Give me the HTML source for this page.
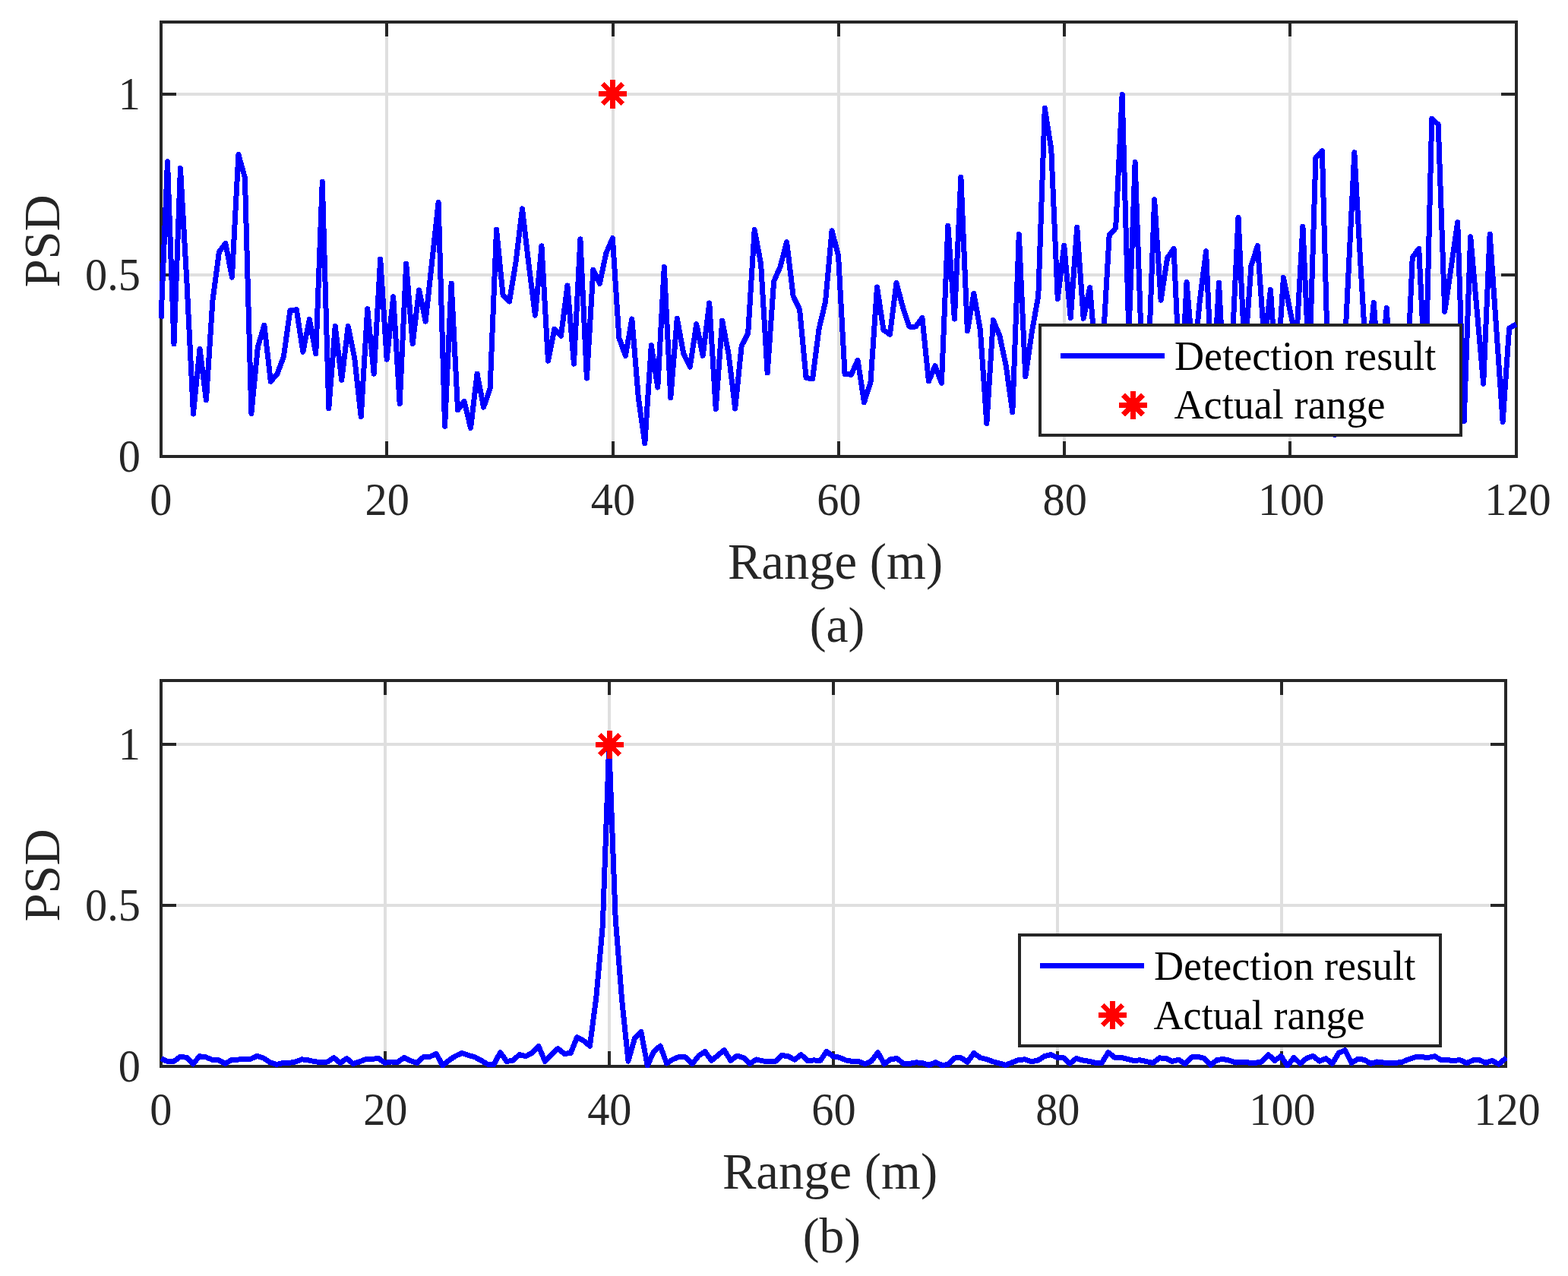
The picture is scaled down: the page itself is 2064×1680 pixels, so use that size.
<!DOCTYPE html>
<html lang="en">
<head>
<meta charset="utf-8">
<title>Range detection PSD</title>
<style>
html,body{margin:0;padding:0;background:#fff;}
body{width:2064px;height:1680px;overflow:hidden;}
svg{display:block;font-family:'Liberation Serif','DejaVu Serif',serif;}
</style>
</head>
<body>
<svg width="2064" height="1680" viewBox="0 0 2064 1680">
<rect width="2064" height="1680" fill="#fff"/>
<g id="plot-a">
<rect x="507" y="29" width="4" height="572" fill="#dfdfdf"/>
<rect x="805" y="29" width="4" height="572" fill="#dfdfdf"/>
<rect x="1102" y="29" width="4" height="572" fill="#dfdfdf"/>
<rect x="1399" y="29" width="4" height="572" fill="#dfdfdf"/>
<rect x="1696" y="29" width="4" height="572" fill="#dfdfdf"/>
<rect x="212" y="360" width="1784" height="4" fill="#dfdfdf"/>
<rect x="212" y="122" width="1784" height="4" fill="#dfdfdf"/>
<rect x="507" y="581" width="4" height="18" fill="#262626"/>
<rect x="507" y="31" width="4" height="17" fill="#262626"/>
<rect x="805" y="581" width="4" height="18" fill="#262626"/>
<rect x="805" y="31" width="4" height="17" fill="#262626"/>
<rect x="1102" y="581" width="4" height="18" fill="#262626"/>
<rect x="1102" y="31" width="4" height="17" fill="#262626"/>
<rect x="1399" y="581" width="4" height="18" fill="#262626"/>
<rect x="1399" y="31" width="4" height="17" fill="#262626"/>
<rect x="1696" y="581" width="4" height="18" fill="#262626"/>
<rect x="1696" y="31" width="4" height="17" fill="#262626"/>
<rect x="214" y="360" width="18" height="4" fill="#262626"/>
<rect x="1976" y="360" width="18" height="4" fill="#262626"/>
<rect x="214" y="122" width="18" height="4" fill="#262626"/>
<rect x="1976" y="122" width="18" height="4" fill="#262626"/>
<rect x="212" y="29" width="1784" height="572" fill="none" stroke="#262626" stroke-width="4"/>
<clipPath id="c1"><rect x="209" y="27" width="1789" height="576"/></clipPath>
<path d="M212 419.5L220.49 212.7L228.98 452.9L237.47 221.5L245.96 371.9L254.45 545.1L262.95 459.3L271.44 526.7L279.93 395.7L288.42 331.7L296.91 320.5L305.4 365.1L313.89 203.4L322.38 233.9L330.87 544.5L339.37 456.7L347.86 428.1L356.35 502.3L364.84 492.4L373.33 470L381.82 409L390.31 407.6L398.8 463.3L407.29 420.6L415.78 465.7L424.27 239.1L432.77 537.7L441.26 429.5L449.75 500.5L458.24 429.5L466.73 471.6L475.22 548.7L483.71 406.6L492.2 492.2L500.69 341.1L509.19 473.1L517.68 390.8L526.17 531.7L534.66 347.1L543.15 452.8L551.64 381.9L560.13 423.1L568.62 345L577.11 266.4L585.6 561.5L594.1 373L602.59 539.8L611.08 528.3L619.57 563.6L628.06 492L636.55 536.2L645.04 511.8L653.53 302.1L662.02 388.3L670.51 396.9L679 345.1L687.5 274.8L695.99 348L704.48 415.1L712.97 323.9L721.46 475.2L729.95 433.1L738.44 442.5L746.93 376L755.42 479.1L763.91 314.9L772.41 498.1L780.9 355.1L789.39 373.4L797.88 333.2L806.37 313.5L814.86 444.8L823.35 468.6L831.84 420L840.33 523.7L848.82 583.8L857.32 454.8L865.81 510L874.3 351.6L882.79 523.7L891.28 419.1L899.77 465.7L908.26 483.2L916.75 426.6L925.24 468.3L933.74 398.9L942.23 538.6L950.72 422.1L959.21 467.1L967.7 538L976.19 455.2L984.68 438.9L993.17 302.4L1001.66 348L1010.15 491L1018.64 370.4L1027.14 351L1035.63 318.5L1044.12 389.8L1052.61 407.6L1061.1 497.5L1069.59 498.7L1078.08 432.9L1086.57 397.2L1095.06 303.9L1103.55 336.2L1112.05 492.4L1120.54 493.3L1129.03 474.1L1137.52 529.7L1146.01 502.9L1154.5 378L1162.99 434.4L1171.48 440.4L1179.97 372.4L1188.46 404.6L1196.96 430L1205.45 430L1213.94 418.5L1222.43 502L1230.92 481.6L1239.41 504.4L1247.9 297.1L1256.39 420.1L1264.88 233.1L1273.38 435.9L1281.87 386.4L1290.36 434.4L1298.85 557.6L1307.34 421.5L1315.83 441.8L1324.32 482L1332.81 542.8L1341.3 308.4L1349.79 496L1358.28 437L1366.78 389.8L1375.27 142.3L1383.76 196.3L1392.25 393.4L1400.74 323.4L1409.23 418.4L1417.72 299.4L1426.21 419.4L1434.7 378.5L1440.15 446L1452.37 446L1460.18 309.7L1468.67 300.3L1477.16 124.4L1485.9 440L1494.14 213.7L1502.18 446L1512.88 446L1519.61 262.6L1528.11 395.2L1536.6 339.5L1545.09 327.5L1550.5 446L1558.44 446L1562.07 371.3L1568.22 446L1574.62 446L1579.05 398.3L1587.54 330.7L1592.8 446L1600.53 446L1604.52 372.4L1608.31 446L1622.36 446L1630 286.3L1637.42 446L1640.09 446L1646.98 349.7L1655.47 323.4L1663.85 446L1665.18 446L1672.45 381.5L1676.7 446L1684.23 446L1689.43 365.5L1697.92 408L1706.42 449L1714.91 298.1L1721.36 446L1724.6 446L1731.89 208L1740.38 198.5L1749.82 550L1757.36 572.6L1766.53 531L1782.85 200.7L1791 349.8L1796.72 446L1803.77 446L1808.31 398.4L1811.71 446L1821.81 446L1825.29 405.4L1827.64 446L1854.53 446L1859.25 339L1867.74 327.2L1873.45 446L1877.79 446L1884.73 156.4L1893.22 164L1901.71 410.2L1910.2 351.7L1918.69 292.6L1927.18 554.5L1935.67 311.7L1944.16 408.5L1952.65 505.3L1961.15 308.2L1969.64 431.7L1978.13 555.4L1986.62 432L1996 426.8" fill="none" stroke="#0000ff" stroke-width="7" stroke-linejoin="round" stroke-linecap="butt" shape-rendering="crispEdges" clip-path="url(#c1)"/>
<path d="M788 123.5H825M806.5 105V143M793.42 110.42L819.58 136.58M793.42 136.58L819.58 110.42" stroke="#ff0000" stroke-width="7" fill="none" stroke-linecap="butt" shape-rendering="crispEdges"/>
<rect x="1369" y="428" width="554" height="145" fill="#fff" stroke="#262626" stroke-width="4"/>
<rect x="1396" y="465" width="137" height="7" fill="#0000ff"/>
<path d="M1473 533H1510M1491.5 514.5V551.5M1478.42 519.92L1504.58 546.08M1478.42 546.08L1504.58 519.92" stroke="#ff0000" stroke-width="7" fill="none" stroke-linecap="butt" shape-rendering="crispEdges"/>
<text x="1546" y="486.5" font-size="54.17" fill="#000">Detection result</text>
<text x="1545.5" y="550.5" font-size="54.17" fill="#000">Actual range</text>
<text transform="translate(211.7 678.3) scale(1 1.06)" font-size="58.33" text-anchor="middle" fill="#262626">0</text>
<text transform="translate(509.63 678.3) scale(1 1.06)" font-size="58.33" text-anchor="middle" fill="#262626">20</text>
<text transform="translate(806.97 678.3) scale(1 1.06)" font-size="58.33" text-anchor="middle" fill="#262626">40</text>
<text transform="translate(1104.5 678.3) scale(1 1.06)" font-size="58.33" text-anchor="middle" fill="#262626">60</text>
<text transform="translate(1401.63 678.3) scale(1 1.06)" font-size="58.33" text-anchor="middle" fill="#262626">80</text>
<text transform="translate(1699.67 678.3) scale(1 1.06)" font-size="58.33" text-anchor="middle" fill="#262626">100</text>
<text transform="translate(1998 678.3) scale(1 1.06)" font-size="58.33" text-anchor="middle" fill="#262626">120</text>
<text transform="translate(185 620.7) scale(1 1.06)" font-size="58.33" text-anchor="end" fill="#262626">0</text>
<text transform="translate(185 381.7) scale(1 1.06)" font-size="58.33" text-anchor="end" fill="#262626">0.5</text>
<text transform="translate(185 143.7) scale(1 1.06)" font-size="58.33" text-anchor="end" fill="#262626">1</text>
<text x="1099.5" y="761.5" font-size="66.67" text-anchor="middle" fill="#262626">Range (m)</text>
<text x="1102" y="845" font-size="65.5" text-anchor="middle" fill="#262626">(a)</text>
<text transform="translate(78.3 317.4) rotate(-90) scale(1 1.02)" font-size="66.67" text-anchor="middle" fill="#262626">PSD</text>
</g>
<g id="plot-b">
<rect x="505" y="896" width="4" height="508" fill="#dfdfdf"/>
<rect x="800" y="896" width="4" height="508" fill="#dfdfdf"/>
<rect x="1095" y="896" width="4" height="508" fill="#dfdfdf"/>
<rect x="1390" y="896" width="4" height="508" fill="#dfdfdf"/>
<rect x="1685" y="896" width="4" height="508" fill="#dfdfdf"/>
<rect x="212" y="1190" width="1770" height="4" fill="#dfdfdf"/>
<rect x="212" y="978" width="1770" height="4" fill="#dfdfdf"/>
<rect x="505" y="1384" width="4" height="18" fill="#262626"/>
<rect x="505" y="898" width="4" height="17" fill="#262626"/>
<rect x="800" y="1384" width="4" height="18" fill="#262626"/>
<rect x="800" y="898" width="4" height="17" fill="#262626"/>
<rect x="1095" y="1384" width="4" height="18" fill="#262626"/>
<rect x="1095" y="898" width="4" height="17" fill="#262626"/>
<rect x="1390" y="1384" width="4" height="18" fill="#262626"/>
<rect x="1390" y="898" width="4" height="17" fill="#262626"/>
<rect x="1685" y="1384" width="4" height="18" fill="#262626"/>
<rect x="1685" y="898" width="4" height="17" fill="#262626"/>
<rect x="214" y="1190" width="18" height="4" fill="#262626"/>
<rect x="1962" y="1190" width="18" height="4" fill="#262626"/>
<rect x="214" y="978" width="18" height="4" fill="#262626"/>
<rect x="1962" y="978" width="18" height="4" fill="#262626"/>
<rect x="212" y="896" width="1770" height="508" fill="none" stroke="#262626" stroke-width="4"/>
<clipPath id="c2"><rect x="209" y="894" width="1775" height="512"/></clipPath>
<path d="M212 1393.75L220.42 1397.4L228.85 1397.4L237.27 1391.3L245.7 1392.3L254.12 1400.9L262.55 1390.7L270.97 1391.9L279.4 1395.3L287.82 1395.9L296.25 1400.4L304.67 1395.6L313.09 1395.1L321.52 1394.2L329.94 1394.3L338.37 1390.4L346.79 1393L355.22 1398.5L363.64 1401.5L372.07 1399.7L380.49 1399.4L388.91 1398L397.34 1394.8L405.76 1395.9L414.19 1397.7L422.61 1398.7L431.04 1398L439.46 1392.6L447.89 1399.7L456.31 1393.6L464.74 1400.4L473.16 1398L481.58 1394.5L490.01 1394.2L498.43 1393.6L506.86 1399.4L515.28 1398L523.71 1398.3L532.13 1392.4L540.56 1396.7L548.98 1399.4L557.4 1391.6L565.83 1391.3L574.25 1387.5L582.68 1402.9L591.1 1395.9L599.53 1390.4L607.95 1386.6L616.38 1389.4L624.8 1391.6L633.23 1396.2L641.65 1401.2L650.07 1401.5L658.5 1385.6L666.92 1397.5L675.35 1396.2L683.77 1388.5L692.2 1390.8L700.62 1386L709.05 1377.6L717.47 1397.5L725.89 1388.7L734.32 1380.5L742.74 1387.4L751.17 1386.5L759.59 1365.6L768.02 1370.1L776.44 1377.1L784.87 1312.9L793.29 1219.3L801.72 980.67L810.14 1208.7L818.56 1315.8L826.99 1397.1L835.41 1367.2L843.84 1358.5L852.26 1403L860.69 1384.3L869.11 1377.1L877.54 1400L885.96 1394.7L894.38 1391.1L902.81 1392L911.23 1400.7L919.66 1390.2L928.08 1384.6L936.51 1396.3L944.93 1389.5L953.36 1382.6L961.78 1396.3L970.21 1390.1L978.63 1392.5L987.05 1400.6L995.48 1395L1003.9 1396.9L1012.33 1397.5L1020.75 1397.5L1029.18 1389.5L1037.6 1390.8L1046.03 1395.3L1054.45 1388.5L1062.87 1396.5L1071.3 1395.9L1079.72 1396.5L1088.15 1384.4L1096.57 1390.8L1105 1392.3L1113.42 1395.9L1121.85 1397.5L1130.27 1397.5L1138.7 1400.9L1147.12 1397.1L1155.54 1385.6L1163.97 1400.9L1172.39 1394.6L1180.82 1393.6L1189.24 1400.4L1197.67 1400.3L1206.09 1398.8L1214.52 1399.7L1222.94 1402.3L1231.36 1398.7L1239.79 1402.3L1248.21 1401.7L1256.64 1393L1265.06 1392.7L1273.49 1398.3L1281.91 1386.6L1290.34 1392.6L1298.76 1394.7L1307.18 1397.8L1315.61 1400L1324.03 1402.3L1332.46 1398.8L1340.88 1395.5L1349.31 1394.8L1357.73 1397.7L1366.16 1396.2L1374.58 1390.8L1383.01 1388.5L1391.43 1392.3L1399.85 1392.7L1408.28 1400.4L1416.7 1393.6L1425.13 1395.9L1433.55 1397.4L1441.98 1399.4L1450.4 1399.4L1458.83 1385.6L1467.25 1392.3L1475.67 1392.4L1484.1 1394.5L1492.52 1396.4L1500.95 1395.8L1509.37 1397.7L1517.8 1399.4L1526.22 1392.9L1534.65 1393.5L1543.07 1397.4L1551.5 1395.2L1559.92 1400.9L1568.34 1392L1576.77 1391.4L1585.19 1393.4L1593.62 1402.3L1602.04 1395.5L1610.47 1394.5L1618.89 1396.4L1627.32 1399.1L1635.74 1398.1L1644.16 1399.1L1652.59 1399.3L1661.01 1398L1669.44 1388.5L1677.86 1396.5L1686.29 1390.4L1694.71 1403.3L1703.14 1392.4L1711.56 1400.4L1719.99 1393.3L1728.41 1390.4L1736.83 1397.1L1745.26 1393.6L1753.68 1400.4L1762.11 1386.5L1770.53 1382.7L1778.96 1399.5L1787.38 1394.4L1795.81 1395.25L1804.23 1400.4L1812.65 1398L1821.08 1399L1829.5 1399.5L1837.93 1399.3L1846.35 1398L1854.78 1394.5L1863.2 1391.8L1871.63 1391.8L1880.05 1392.4L1888.48 1390.7L1896.9 1395.5L1905.32 1395.9L1913.75 1396.2L1922.17 1395.8L1930.6 1399.7L1939.02 1395.9L1947.45 1395.8L1955.87 1399.4L1964.3 1396.5L1972.72 1401.2L1983 1392.5" fill="none" stroke="#0000ff" stroke-width="7" stroke-linejoin="round" stroke-linecap="butt" shape-rendering="crispEdges" clip-path="url(#c2)"/>
<path d="M784 980.5H821M802.5 962V999M789.42 967.42L815.58 993.58M789.42 993.58L815.58 967.42" stroke="#ff0000" stroke-width="7" fill="none" stroke-linecap="butt" shape-rendering="crispEdges"/>
<rect x="1342" y="1231" width="554" height="146" fill="#fff" stroke="#262626" stroke-width="4"/>
<rect x="1369" y="1268" width="137" height="7" fill="#0000ff"/>
<path d="M1446 1336.5H1483M1464.5 1318V1355M1451.42 1323.42L1477.58 1349.58M1451.42 1349.58L1477.58 1323.42" stroke="#ff0000" stroke-width="7" fill="none" stroke-linecap="butt" shape-rendering="crispEdges"/>
<text x="1519" y="1289.5" font-size="54.17" fill="#000">Detection result</text>
<text x="1518.5" y="1354.7" font-size="54.17" fill="#000">Actual range</text>
<text transform="translate(211.7 1481.3) scale(1 1.06)" font-size="58.33" text-anchor="middle" fill="#262626">0</text>
<text transform="translate(507.3 1481.3) scale(1 1.06)" font-size="58.33" text-anchor="middle" fill="#262626">20</text>
<text transform="translate(802.3 1481.3) scale(1 1.06)" font-size="58.33" text-anchor="middle" fill="#262626">40</text>
<text transform="translate(1097.5 1481.3) scale(1 1.06)" font-size="58.33" text-anchor="middle" fill="#262626">60</text>
<text transform="translate(1392.3 1481.3) scale(1 1.06)" font-size="58.33" text-anchor="middle" fill="#262626">80</text>
<text transform="translate(1688 1481.3) scale(1 1.06)" font-size="58.33" text-anchor="middle" fill="#262626">100</text>
<text transform="translate(1984 1481.3) scale(1 1.06)" font-size="58.33" text-anchor="middle" fill="#262626">120</text>
<text transform="translate(185 1423.7) scale(1 1.06)" font-size="58.33" text-anchor="end" fill="#262626">0</text>
<text transform="translate(185 1211.7) scale(1 1.06)" font-size="58.33" text-anchor="end" fill="#262626">0.5</text>
<text transform="translate(185 999.7) scale(1 1.06)" font-size="58.33" text-anchor="end" fill="#262626">1</text>
<text x="1092.5" y="1564.5" font-size="66.67" text-anchor="middle" fill="#262626">Range (m)</text>
<text x="1095" y="1649" font-size="65.5" text-anchor="middle" fill="#262626">(b)</text>
<text transform="translate(78.3 1152.4) rotate(-90) scale(1 1.02)" font-size="66.67" text-anchor="middle" fill="#262626">PSD</text>
</g>
</svg>
</body>
</html>
